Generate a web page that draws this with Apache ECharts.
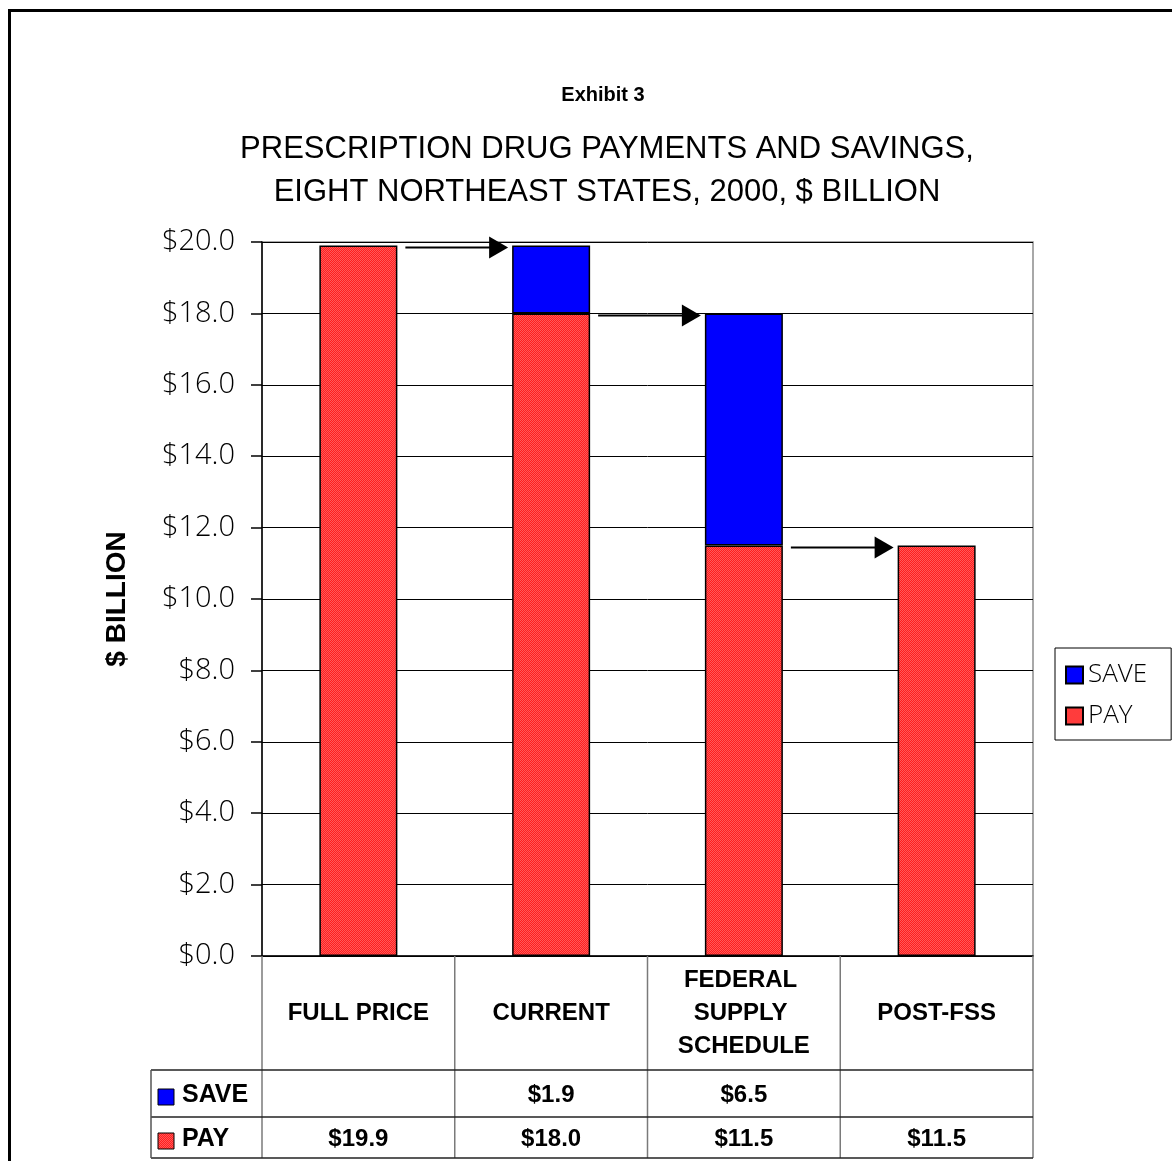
<!DOCTYPE html>
<html>
<head>
<meta charset="utf-8">
<script src="https://cdn.jsdelivr.net/npm/echarts@6/dist/echarts.min.js"></script>
<style>
html,body{margin:0;padding:0;background:#fff;}
#c{width:1172px;height:1161px;}
</style>
</head>
<body>
<div id="c"></div>
<script>
// ---- data ----
const categories = ['FULL PRICE', 'CURRENT', 'FEDERAL SUPPLY SCHEDULE', 'POST-FSS'];
const payValues = [19.9, 18.0, 11.5, 11.5];
const saveValues = [null, 1.9, 6.5, null];
const yTicks = { min: 0, max: 20, interval: 2 };
const titleSmall = 'Exhibit 3';
const titleMain = ['PRESCRIPTION DRUG PAYMENTS AND SAVINGS,', 'EIGHT NORTHEAST STATES, 2000, $ BILLION'];
const yAxisName = '$ BILLION';

// ---- styles ----
const BLUE = '#0000ff';
function makePattern() {
  const cv = document.createElement('canvas');
  cv.width = 2; cv.height = 2;
  const g = cv.getContext('2d');
  g.fillStyle = '#ff1e1e'; g.fillRect(0, 0, 2, 2);
  g.fillStyle = '#ff5a5a'; g.fillRect(0, 0, 1, 1); g.fillRect(1, 1, 1, 1);
  return cv;
}
const patCanvas = makePattern();
const RED = { image: patCanvas, repeat: 'repeat' };

const G_LEFT = 262, G_RIGHT_PX = 1033, G_TOP = 242, G_BOTTOM_PX = 956;
const ARIAL = '"Liberation Sans", Arial, sans-serif';
const LIGHT = '"Open Sans", "Liberation Sans", sans-serif';

const chart = echarts.init(document.getElementById('c'), null, { renderer: 'canvas' });

const option = {
  animation: false,
  backgroundColor: '#fff',
  title: [
    { text: titleSmall, left: 598, top: 80, textAlign: 'center',
      textStyle: { fontFamily: ARIAL, fontWeight: 'bold', fontSize: 20, color: '#000' } },
    { text: titleMain.join('\n'), left: 602, top: 123, textAlign: 'center',
      textStyle: { fontFamily: ARIAL, fontWeight: 'normal', fontSize: 31, lineHeight: 43, color: '#000' } }
  ],
  legend: {
    data: ['SAVE', 'PAY'],
    orient: 'vertical',
    left: 1055, top: 648,
    padding: [14, 24, 11, 10],
    itemGap: 15,
    itemWidth: 17, itemHeight: 17,
    icon: 'rect',
    borderColor: '#000', borderWidth: 1,
    textStyle: { fontFamily: LIGHT, fontWeight: 300, fontSize: 26, color: '#000' }
  },
  grid: { left: G_LEFT, right: 1172 - G_RIGHT_PX, top: G_TOP, bottom: 1161 - G_BOTTOM_PX,
          show: true, borderColor: '#8c8c8c', borderWidth: 1.5, containLabel: false },
  xAxis: {
    type: 'category', data: categories,
    axisLine: { lineStyle: { color: '#000', width: 1.5 } },
    axisTick: { show: false },
    axisLabel: { fontFamily: ARIAL, fontWeight: 'bold', fontSize: 24, color: '#000',
                 width: 170, overflow: 'break', lineHeight: 33, margin: 57,
                 verticalAlign: 'middle', align: 'center', interval: 0 }
  },
  yAxis: {
    type: 'value', min: yTicks.min, max: yTicks.max, interval: yTicks.interval,
    name: yAxisName, nameLocation: 'middle', nameGap: 131, nameRotate: 90,
    nameTextStyle: { fontFamily: ARIAL, fontWeight: 'bold', fontSize: 28, color: '#000' },
    axisLine: { show: true, lineStyle: { color: '#000', width: 1.5 } },
    axisTick: { show: true, length: 11, lineStyle: { color: '#000', width: 1.5 } },
    axisLabel: { formatter: v => '$' + v.toFixed(1), fontFamily: LIGHT, fontWeight: 300,
                 fontSize: 29, color: '#000', margin: 27 },
    splitLine: { show: true, lineStyle: { color: '#000', width: 1 } }
  },
  series: [
    { name: 'PAY', type: 'bar', stack: 'total', data: payValues, barWidth: 78,
      itemStyle: { color: RED, borderColor: '#000', borderWidth: 1.5 } },
    { name: 'SAVE', type: 'bar', stack: 'total', data: saveValues, barWidth: 78,
      itemStyle: { color: BLUE, borderColor: '#000', borderWidth: 1.5 } }
  ]
};
chart.setOption(option);

// ---- arrows & data table drawn from the axes' scales ----
function buildGraphics() {
  const els = [];
  const halfBar = 39;
  const totals = payValues.map((p, i) => p + (saveValues[i] || 0));
  const centers = categories.map((c, i) => chart.convertToPixel({ gridIndex: 0 }, [i, 0])[0]);
  // outer frame
  els.push({ type: 'rect', shape: { x: 9.5, y: 10.5, width: 1400, height: 1400 },
             style: { fill: null, stroke: '#000', lineWidth: 3 }, z: 0, silent: true });
  // arrows between bars
  for (let i = 0; i < categories.length - 1; i++) {
    const y = chart.convertToPixel({ gridIndex: 0 }, [i + 1, totals[i + 1]])[1] + 2;
    const x0 = centers[i] + halfBar + 8;
    const tip = centers[i + 1] - halfBar - 4;
    els.push({ type: 'line', shape: { x1: x0, y1: y, x2: tip - 18, y2: y },
               style: { stroke: '#000', lineWidth: 2 }, z: 10 });
    els.push({ type: 'polygon', shape: { points: [[tip - 19, y - 11], [tip, y], [tip - 19, y + 11]] },
               style: { fill: '#000' }, z: 10 });
  }
  // table
  const band = centers[1] - centers[0];
  const xL = centers[0] - band / 2, xR = centers[centers.length - 1] + band / 2;
  const yAxisBottom = chart.convertToPixel({ gridIndex: 0 }, [0, 0])[1];
  const rowLines = [1070, 1117, 1158];
  const rowCenters = [1095, 1139];
  const labelLeft = 151;
  const lineCol = '#555';
  const vxs = [xL];
  for (let i = 0; i < centers.length - 1; i++) vxs.push((centers[i] + centers[i + 1]) / 2);
  vxs.push(xR);
  vxs.forEach(x => els.push({ type: 'line', shape: { x1: x, y1: yAxisBottom, x2: x, y2: rowLines[2] },
                               style: { stroke: '#7a7a7a', lineWidth: 1.5 }, z: 5 }));
  rowLines.forEach(y => els.push({ type: 'line', shape: { x1: labelLeft, y1: y, x2: xR, y2: y },
                                   style: { stroke: '#222', lineWidth: 1.5 }, z: 5 }));
  els.push({ type: 'line', shape: { x1: labelLeft, y1: rowLines[0], x2: labelLeft, y2: rowLines[2] },
             style: { stroke: lineCol, lineWidth: 1.5 }, z: 5 });
  const rows = [
    { name: 'SAVE', fill: BLUE, vals: saveValues },
    { name: 'PAY', fill: RED, vals: payValues }
  ];
  rows.forEach((r, ri) => {
    const cy = rowCenters[ri];
    els.push({ type: 'rect', shape: { x: 158, y: cy - 6, width: 16, height: 16 },
               style: { fill: r.fill, stroke: '#000', lineWidth: 1 }, z: 6 });
    els.push({ type: 'text', x: 182, y: cy, style: { text: r.name, fontFamily: ARIAL, fontWeight: 'bold',
               fontSize: 25, fill: '#000', align: 'left', verticalAlign: 'middle' }, z: 6 });
    r.vals.forEach((v, i) => {
      if (v == null) return;
      els.push({ type: 'text', x: centers[i], y: cy, style: { text: '$' + v.toFixed(1), fontFamily: ARIAL,
                 fontWeight: 'bold', fontSize: 24, fill: '#000', align: 'center', verticalAlign: 'middle' }, z: 6 });
    });
  });
  chart.setOption({ graphic: { elements: els } });
}
buildGraphics();
</script>
</body>
</html>
